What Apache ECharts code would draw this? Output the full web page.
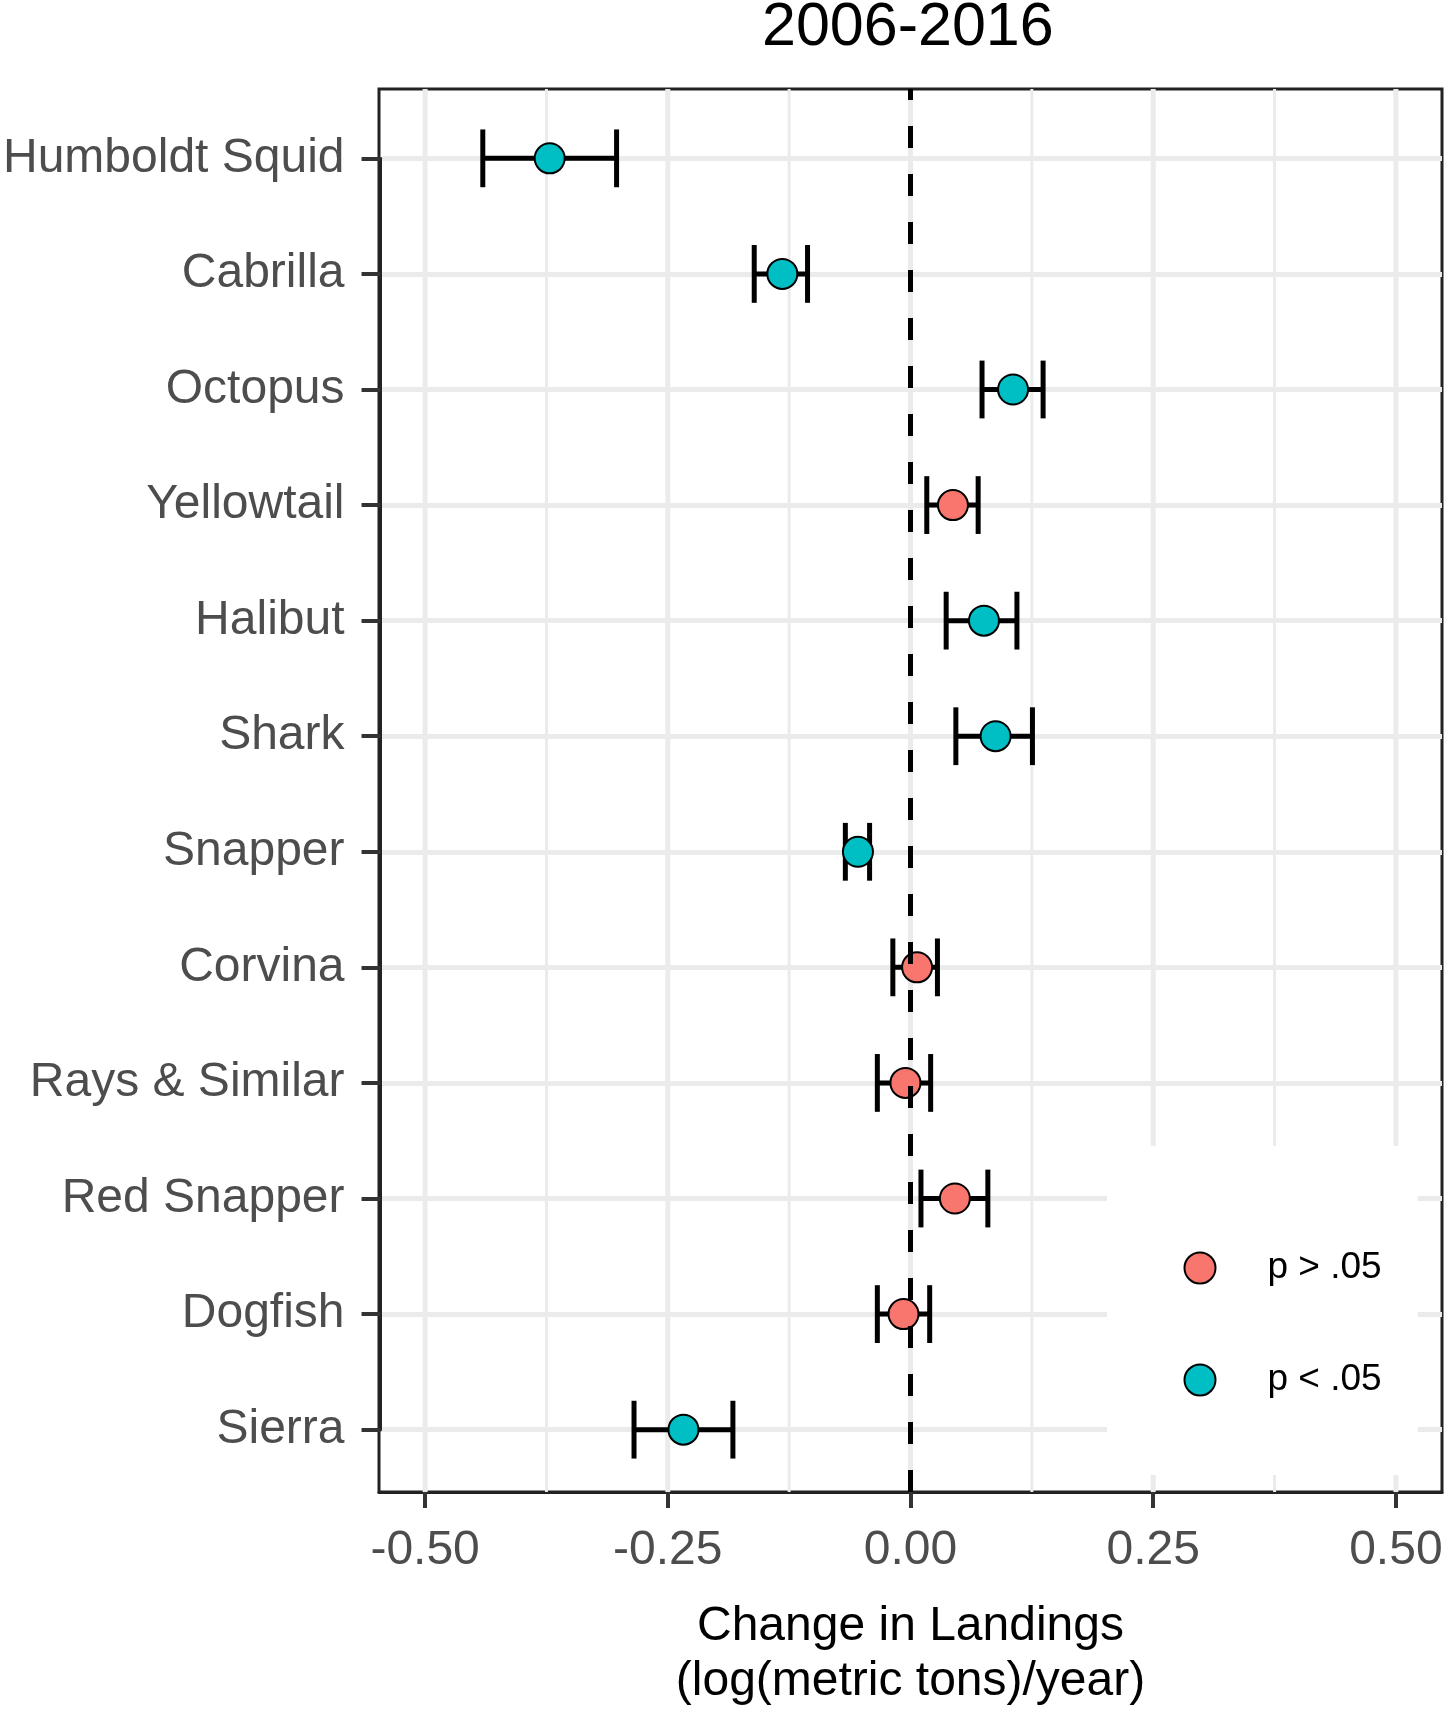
<!DOCTYPE html>
<html lang="en">
<head>
<meta charset="UTF-8">
<title>2006-2016</title>
<style>
  html, body {margin:0; padding:0; background:#fff}
  #chart {width:1450px; height:1714px}
</style>
<script src="https://cdn.jsdelivr.net/npm/echarts@6/dist/echarts.min.js"></script>
</head>
<body>
<div id="chart"></div>
<script>
// values (change per year, log scale)
const species = ['Humboldt Squid', 'Cabrilla', 'Octopus', 'Yellowtail', 'Halibut', 'Shark',
                 'Snapper', 'Corvina', 'Rays & Similar', 'Red Snapper', 'Dogfish', 'Sierra']
const estimate = [-0.373, -0.133, 0.105, 0.043, 0.075, 0.087, -0.055, 0.006, -0.006, 0.045, -0.008, -0.235]
const lower    = [-0.442, -0.162, 0.073, 0.016, 0.036, 0.046, -0.068, -0.019, -0.035, 0.010, -0.035, -0.286]
const upper    = [-0.304, -0.107, 0.136, 0.069, 0.109, 0.125, -0.043, 0.027, 0.020, 0.079, 0.019, -0.184]
const significant = [true, true, true, false, true, true, true, false, false, false, false, true]

const xMajor = [-0.5, -0.25, 0, 0.25, 0.5]
const xMinor = [-0.375, -0.125, 0.125, 0.375]
const refLine = [0]
const xMin = -0.5475, xMax = 0.5475

const groups = ['p > .05', 'p < .05']
const colors = {'p > .05': '#F8766D', 'p < .05': '#00BFC4'}

const font = "'Liberation Sans', Arial, sans-serif"

// panel box, and the inner box where the first/last category sit (ggplot pads 0.6 of a step)
const W = 1450, H = 1714
const panel = {left: 379, right: 8, top: 89, bottom: 215}
const panelH = H - panel.top - panel.bottom
const step = panelH / (species.length - 1 + 1.2)
const inner = {left: panel.left, right: panel.right, top: panel.top + 0.6 * step, bottom: panel.bottom + 0.6 * step}

let chart = echarts.init(document.getElementById('chart'), null, {renderer: 'canvas'})

function pointsFor(group) {
    let out = []
    species.forEach((s, i) => {
        let g = significant[i] ? 'p < .05' : 'p > .05'
        if (g == group) out.push([estimate[i], i])
    })
    return out
}

let option = {
    backgroundColor: '#fff',
    animation: false,
    textStyle: {fontFamily: font},
    title: {
        text: '2006-2016',
        left: 762,
        top: -2,
        padding: 0,
        textStyle: {fontSize: 61, fontWeight: 'normal', color: '#000', fontFamily: font}
    },
    legend: {
        data: groups,
        orient: 'vertical',
        left: 1107,
        top: 1146,
        backgroundColor: '#fff',
        padding: [103.5, 36, 76.5, 76.5],
        itemWidth: 31,
        itemHeight: 31,
        itemGap: 75,
        icon: 'circle',
        itemStyle: {borderColor: '#000', borderWidth: 2},
        textStyle: {fontSize: 37, color: '#000', lineHeight: 31, padding: [0, 0, 0, 47], fontFamily: font}
    },
    grid: [
        Object.assign({show: true, borderColor: '#222', borderWidth: 3, backgroundColor: 'transparent'}, panel),
        Object.assign({show: false}, inner)
    ],
    xAxis: [
        {
            type: 'value', gridIndex: 0, min: xMin, max: xMax,
            axisLine: {show: true, onZero: false, lineStyle: {color: '#222', width: 3}},
            axisTick: {show: true, customValues: xMajor, length: 16, lineStyle: {color: '#333', width: 4}},
            axisLabel: {customValues: xMajor, formatter: v => v.toFixed(2), fontSize: 48, color: '#4D4D4D', margin: 35, fontFamily: font},
            splitLine: {show: false},
            name: 'Change in Landings\n(log(metric tons)/year)',
            nameLocation: 'middle',
            nameGap: 107,
            nameTextStyle: {fontSize: 48, color: '#000', lineHeight: 55, fontFamily: font}
        },
        {type: 'value', gridIndex: 1, min: xMin, max: xMax, show: false}
    ],
    yAxis: [
        {type: 'value', gridIndex: 0, min: 0, max: 1, show: false},
        {
            type: 'category', gridIndex: 1, data: species, inverse: true, boundaryGap: false,
            axisLine: {show: true, onZero: false, lineStyle: {color: '#222', width: 3}},
            axisTick: {show: true, interval: 0, length: 19, lineStyle: {color: '#333', width: 4}},
            axisLabel: {interval: 0, fontSize: 48, color: '#4D4D4D', margin: 36, fontFamily: font},
            splitLine: {show: true, interval: 0, lineStyle: {color: '#EBEBEB', width: 5}}
        }
    ],
    series: [
        {
            // vertical grid lines, full panel height
            type: 'custom', name: 'grid', xAxisIndex: 0, yAxisIndex: 0, z: 1, silent: true,
            data: xMajor.map(v => [v, 0, 1]).concat(xMinor.map(v => [v, 0, 0])),
            encode: {x: 0, y: 1},
            renderItem: function (params, api) {
                let a = api.coord([api.value(0), 0])
                let b = api.coord([api.value(0), 1])
                return {type: 'line', shape: {x1: a[0], y1: a[1], x2: b[0], y2: b[1]},
                        style: {stroke: '#EBEBEB', lineWidth: api.value(2) ? 5 : 3}}
            }
        },
        {
            type: 'custom', name: 'errorbar', xAxisIndex: 1, yAxisIndex: 1, z: 2, silent: true,
            data: species.map((s, i) => [lower[i], upper[i], i]),
            encode: {x: [0, 1], y: 2},
            renderItem: function (params, api) {
                let lo = api.coord([api.value(0), api.value(2)])
                let hi = api.coord([api.value(1), api.value(2)])
                let h = api.size([0, 1])[1] * 0.25
                let st = {stroke: '#000', lineWidth: 5}
                return {type: 'group', children: [
                    {type: 'line', shape: {x1: lo[0], y1: lo[1], x2: hi[0], y2: hi[1]}, style: st},
                    {type: 'line', shape: {x1: lo[0], y1: lo[1] - h, x2: lo[0], y2: lo[1] + h}, style: st},
                    {type: 'line', shape: {x1: hi[0], y1: hi[1] - h, x2: hi[0], y2: hi[1] + h}, style: st}
                ]}
            }
        },
        ...groups.map(g => ({
            type: 'scatter', name: g, xAxisIndex: 1, yAxisIndex: 1, z: 3,
            symbol: 'circle', symbolSize: 30,
            itemStyle: {color: colors[g], borderColor: '#000', borderWidth: 2, opacity: 1},
            data: pointsFor(g)
        })),
        {
            // dashed reference line at zero
            type: 'custom', name: 'zero', xAxisIndex: 0, yAxisIndex: 0, z: 4, silent: true,
            data: refLine.map(v => [v, 0]),
            encode: {x: 0, y: 1},
            renderItem: function (params, api) {
                let a = api.coord([api.value(0), 0])
                let b = api.coord([api.value(0), 1])
                return {type: 'line', shape: {x1: a[0], y1: a[1], x2: b[0], y2: b[1]},
                        style: {stroke: '#000', lineWidth: 5, lineDash: [22, 26]}}
            }
        }
    ]
}

chart.setOption(option)
</script>
</body>
</html>
